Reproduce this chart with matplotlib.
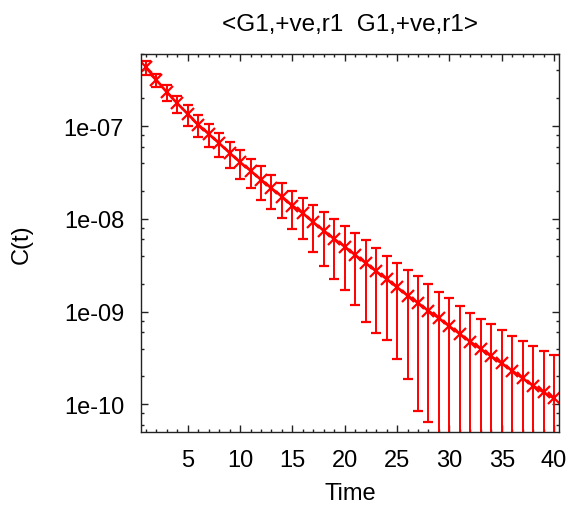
import matplotlib
matplotlib.use("Agg")
import matplotlib.pyplot as plt
from matplotlib.ticker import FixedLocator, LogLocator, NullFormatter, FuncFormatter, MultipleLocator

# datos
tiempo = list(range(1, 41))
corr = [4.31e-7, 3.15e-7, 2.32e-7, 1.76e-7, 1.35e-7, 1.04e-7, 8.23e-8, 6.54e-8,
        5.14e-8, 4.08e-8, 3.31e-8, 2.65e-8, 2.14e-8, 1.74e-8, 1.39e-8, 1.15e-8,
        9.19e-9, 7.46e-9, 6.07e-9, 5.02e-9, 4.08e-9, 3.35e-9, 2.72e-9, 2.25e-9,
        1.83e-9, 1.49e-9, 1.24e-9, 1.02e-9, 8.48e-10, 6.95e-10, 5.74e-10, 4.74e-10,
        3.96e-10, 3.30e-10, 2.77e-10, 2.31e-10, 1.91e-10, 1.59e-10, 1.35e-10, 1.16e-10]
error = [0.78e-7, 0.52e-7, 0.46e-7, 0.366e-7, 0.35e-7, 0.28e-7, 2.27e-8, 1.84e-8,
         1.56e-8, 1.40e-8, 1.14e-8, 1.05e-8, 0.86e-8, 0.72e-8, 0.61e-8, 0.54e-8,
         4.83e-9, 4.32e-9, 3.8e-9, 3.3e-9, 2.91e-9, 2.57e-9, 2.13e-9, 1.76e-9,
         1.52e-9, 1.30e-9, 1.155e-9, 0.955e-9, 8.0e-10, 6.98e-10, 5.85e-10, 4.93e-10,
         4.37e-10, 4.00e-10, 3.57e-10, 3.19e-10, 2.88e-10, 2.67e-10, 2.41e-10, 2.27e-10]
yticks = [1e-10, 1e-9, 1e-8, 1e-7]

plt.rcParams['font.family'] = ['Liberation Sans', 'DejaVu Sans']
plt.rcParams['font.size'] = 17

fig = plt.figure(figsize=(5.7, 5.06), dpi=100)
ax = fig.add_axes([0.2468, 0.1437, 0.7344, 0.7476])

ax.errorbar(tiempo, corr, yerr=error, fmt='-x', color='red', linewidth=1.8,
            elinewidth=1.4, capsize=3.5, capthick=1.4, markersize=8.5, mew=1.6)

ax.set_yscale('log')
ax.set_xlim(0.5, 40.5)
ax.set_ylim(5e-11, 6e-7)

ax.xaxis.set_major_locator(MultipleLocator(5))
ax.xaxis.set_minor_locator(MultipleLocator(1))
ax.yaxis.set_major_locator(FixedLocator(yticks))
ax.yaxis.set_major_formatter(FuncFormatter(lambda v, p: f"{v:.0e}"))
ax.yaxis.set_minor_locator(LogLocator(base=10, subs=[2, 4, 6, 8]))
ax.yaxis.set_minor_formatter(NullFormatter())

ax.tick_params(which='both', direction='in', top=True, right=True, colors='#222222')
ax.tick_params(which='major', length=5, width=1, labelcolor='black', pad=12)
ax.tick_params(which='minor', length=2.5, width=1)
for s in ax.spines.values():
    s.set_color('#222222')
    s.set_linewidth(1)

ax.set_title("<G1,+ve,r1  G1,+ve,r1>", fontsize=17.5, pad=17)
ax.set_xlabel("Time", labelpad=8)
ax.set_ylabel("C(t)", labelpad=22)

plt.savefig("out.png", dpi=100)
